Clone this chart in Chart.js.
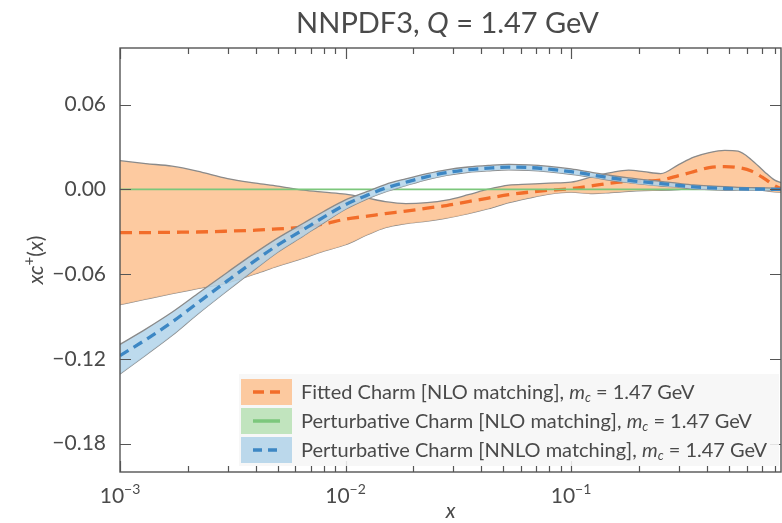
<!DOCTYPE html>
<html>
<head>
<meta charset="utf-8">
<script src="https://cdn.jsdelivr.net/npm/chart.js@4.4.1/dist/chart.umd.min.js"></script>
<style>
  html, body { margin: 0; padding: 0; background: #fff; }
  #chart { display: block; }
</style>
</head>
<body>
<canvas id="chart" width="782" height="523" style="width:782px;height:523px"></canvas>
<script>
// x grid shared by every curve
const xGrid = [0.001, 0.0013, 0.0017, 0.0022, 0.003, 0.004, 0.005, 0.0065, 0.008, 0.01,
  0.0125, 0.015, 0.0185, 0.023, 0.028, 0.035, 0.043, 0.053, 0.065, 0.08,
  0.1, 0.125, 0.15, 0.18, 0.21, 0.25, 0.3, 0.35, 0.41, 0.48,
  0.55, 0.63, 0.72, 0.8, 0.853];

// fitted charm, NLO matching: central value and 68% band
const fittedCentral = [-0.0307, -0.0306, -0.0304, -0.0302, -0.0296, -0.0289, -0.0280, -0.0268, -0.0246, -0.0211,
  -0.0190, -0.0172, -0.0154, -0.0133, -0.0115, -0.0087, -0.0062, -0.0038, -0.0020, -0.0006,
  0.0005, 0.0026, 0.0044, 0.0055, 0.0058, 0.0065, 0.0097, 0.0125, 0.0154, 0.0161,
  0.0154, 0.0129, 0.0076, 0.0026, 0.0005];
const fittedUpper = [0.0203, 0.0182, 0.0164, 0.0129, 0.0076, 0.0044, 0.0023, -0.0006, -0.0020, -0.0034,
  -0.0062, -0.0087, -0.0101, -0.0094, -0.0076, -0.0038, 0.0001, 0.0030, 0.0037, 0.0044,
  0.0051, 0.0090, 0.0118, 0.0136, 0.0125, 0.0111, 0.0175, 0.0228, 0.0260, 0.0276,
  0.0270, 0.0210, 0.0125, 0.0065, 0.0047];
const fittedLower = [-0.0816, -0.0777, -0.0738, -0.0703, -0.0661, -0.0597, -0.0544, -0.0487, -0.0438, -0.0392,
  -0.0321, -0.0271, -0.0243, -0.0225, -0.0204, -0.0172, -0.0137, -0.0094, -0.0062, -0.0034,
  -0.0020, -0.0030, -0.0023, -0.0014, -0.0009, -0.0007, -0.0002, 0.0005, 0.0005, 0.0005,
  0.0008, 0.0008, -0.0009, -0.0018, -0.0020];

// perturbative charm, NLO matching (vanishes at Q = m_c)
const nloCentral = [0, 0, 0, 0, 0, 0, 0, 0, 0, 0,
  0, 0, 0, 0, 0, 0, 0, 0, 0, 0,
  0, 0, 0, 0, 0, 0, 0, 0, 0, 0,
  0, 0, 0, 0, 0];

// perturbative charm, NNLO matching
const nnloCentral = [-0.1177, -0.1064, -0.0940, -0.0806, -0.0646, -0.0501, -0.0395, -0.0285, -0.0197, -0.0108,
  -0.0041, 0.0008, 0.0050, 0.0090, 0.0118, 0.0139, 0.0150, 0.0157, 0.0154, 0.0143,
  0.0125, 0.0101, 0.0081, 0.0064, 0.0052, 0.0040, 0.0028, 0.0017, 0.0011, 0.0006,
  0.0004, 0.0002, 0.0001, 0.0000, 0.0000];
const nnloUpper = [-0.1097, -0.0989, -0.0870, -0.0741, -0.0586, -0.0446, -0.0345, -0.0240, -0.0157, -0.0075,
  -0.0015, 0.0034, 0.0074, 0.0111, 0.0138, 0.0158, 0.0169, 0.0176, 0.0173, 0.0162,
  0.0144, 0.0118, 0.0098, 0.0081, 0.0069, 0.0057, 0.0042, 0.0031, 0.0024, 0.0019,
  0.0014, 0.0012, 0.0010, 0.0008, 0.0006];
const nnloLower = [-0.1307, -0.1174, -0.1035, -0.0886, -0.0716, -0.0561, -0.0445, -0.0330, -0.0237, -0.0141,
  -0.0067, -0.0018, 0.0026, 0.0069, 0.0098, 0.0120, 0.0131, 0.0138, 0.0135, 0.0124,
  0.0106, 0.0084, 0.0064, 0.0047, 0.0035, 0.0023, 0.0014, 0.0003, -0.0002, -0.0007,
  -0.0006, -0.0008, -0.0008, -0.0008, -0.0006];

// axis ticks
const yTickValues = [0.06, 0.00, -0.06, -0.12, -0.18];
const xMajorTicks = [0.001, 0.01, 0.1];
const xTickExponents = ['\u22123', '\u22122', '\u22121'];

const legendLabels = [
  'Fitted Charm [NLO matching], ',
  'Perturbative Charm [NLO matching], ',
  'Perturbative Charm [NNLO matching], '
];

const FONT = 'Lato, "DejaVu Sans", sans-serif';
const TEXT = '#4a4a4a';
const EDGE = '#8a8a8a';
const ORANGE = '#f26d2a';
const ORANGE_FILL = 'rgba(253,196,150,0.9)';
const GREEN = '#7cc77c';
const GREEN_FILL = 'rgba(180,224,176,0.8)';
const BLUE = '#3d87c4';
const BLUE_FILL = 'rgba(178,212,234,0.85)';

const pts = ys => xGrid.map((x, i) => ({ x: x, y: ys[i] }));

function drawRuns(ctx, runs, x, y) {
  runs.forEach(r => {
    ctx.font = r.font;
    ctx.fillText(r.text, x, y + (r.dy || 0));
    x += ctx.measureText(r.text).width;
  });
  return x;
}
function runsWidth(ctx, runs) {
  let w = 0;
  runs.forEach(r => { ctx.font = r.font; w += ctx.measureText(r.text).width; });
  return w;
}

// frame, inward ticks, titles, x labels and the legend
const decor = {
  id: 'decor',
  afterDatasetsDraw(chart) {
    const { ctx, chartArea: a, scales } = chart;
    const sx = scales.x, sy = scales.y;
    ctx.save();
    ctx.strokeStyle = '#555';
    ctx.lineWidth = 1.2;
    ctx.beginPath();
    // x ticks, bottom and top
    const decades = [0.001, 0.01, 0.1];
    decades.forEach(d => {
      for (let m = 1; m <= 9; m++) {
        const v = d * m;
        if (v > sx.max) break;
        const px = Math.round(sx.getPixelForValue(v)) + 0.5;
        const len = m === 1 ? 11 : 6;
        ctx.moveTo(px, a.bottom); ctx.lineTo(px, a.bottom - len);
        ctx.moveTo(px, a.top); ctx.lineTo(px, a.top + len);
      }
    });
    // y ticks, left and right
    yTickValues.forEach(v => {
      const py = Math.round(sy.getPixelForValue(v)) + 0.5;
      ctx.moveTo(a.left, py); ctx.lineTo(a.left + 11, py);
      ctx.moveTo(a.right, py); ctx.lineTo(a.right - 11, py);
    });
    ctx.stroke();
    ctx.lineWidth = 1.4;
    ctx.strokeRect(a.left, a.top, a.right - a.left, a.bottom - a.top);
    ctx.restore();
  },
  afterDraw(chart) {
    const { ctx, chartArea: a, scales } = chart;
    const sx = scales.x;
    ctx.save();
    ctx.fillStyle = TEXT;
    ctx.textBaseline = 'alphabetic';

    // title
    const title = [
      { text: 'NNPDF3, ', font: '29px ' + FONT },
      { text: 'Q', font: 'italic 29px ' + FONT },
      { text: ' = 1.47 GeV', font: '29px ' + FONT }
    ];
    drawRuns(ctx, title, (a.left + a.right) / 2 - 3 - runsWidth(ctx, title) / 2, 33);

    // x tick labels 10^n
    xMajorTicks.forEach((v, i) => {
      const runs = [
        { text: '10', font: '21px ' + FONT },
        { text: xTickExponents[i], font: '14px ' + FONT, dy: -9 }
      ];
      const px = sx.getPixelForValue(v);
      drawRuns(ctx, runs, px - runsWidth(ctx, runs) / 2, 503);
    });

    // x axis title
    ctx.font = 'italic 21px ' + FONT;
    ctx.textAlign = 'center';
    ctx.fillText('x', (a.left + a.right) / 2, 518);
    ctx.textAlign = 'left';

    // y axis title
    ctx.save();
    ctx.translate(43, (a.top + a.bottom) / 2);
    ctx.rotate(-Math.PI / 2);
    const ytitle = [
      { text: 'xc', font: 'italic 21px ' + FONT },
      { text: '+', font: '15px ' + FONT, dy: -9 },
      { text: '(', font: '21px ' + FONT },
      { text: 'x', font: 'italic 21px ' + FONT },
      { text: ')', font: '21px ' + FONT }
    ];
    drawRuns(ctx, ytitle, -runsWidth(ctx, ytitle) / 2, 0);
    ctx.restore();

    // legend
    const boxL = 239, boxR = a.right - 2, boxT = 374, boxB = a.bottom - 6;
    ctx.fillStyle = 'rgba(246,246,246,0.88)';
    ctx.fillRect(boxL, boxT, boxR - boxL, boxB - boxT);
    const fills = [ORANGE_FILL, GREEN_FILL, BLUE_FILL];
    const lines = [ORANGE, GREEN, BLUE];
    const dashes = [[11, 6], [], [9, 6]];
    legendLabels.forEach((label, i) => {
      const top = boxT + 5 + i * 29;
      const cy = top + 13;
      ctx.fillStyle = fills[i];
      ctx.fillRect(boxL + 2, top, 51, 26);
      ctx.strokeStyle = lines[i];
      ctx.lineWidth = 3.5;
      ctx.setLineDash(dashes[i]);
      ctx.beginPath();
      ctx.moveTo(boxL + 14, cy); ctx.lineTo(boxL + 41, cy);
      ctx.stroke();
      ctx.setLineDash([]);
      ctx.fillStyle = TEXT;
      drawRuns(ctx, [
        { text: label, font: '20px ' + FONT },
        { text: 'm', font: 'italic 20px ' + FONT },
        { text: 'c', font: 'italic 13px ' + FONT, dy: 3 },
        { text: ' = 1.47 GeV', font: '20px ' + FONT }
      ], boxL + 62, cy + 7);
    });
    ctx.restore();
  }
};

const bandLine = { pointRadius: 0, borderColor: EDGE, borderWidth: 1.3, cubicInterpolationMode: 'monotone' };

new Chart(document.getElementById('chart'), {
  type: 'line',
  data: {
    datasets: [
      Object.assign({ label: 'fitted upper', data: pts(fittedUpper), fill: '+1', backgroundColor: ORANGE_FILL, order: 10 }, bandLine),
      Object.assign({ label: 'fitted lower', data: pts(fittedLower), fill: false, order: 10 }, bandLine),
      { label: 'Fitted Charm [NLO matching]', data: pts(fittedCentral), borderColor: ORANGE, borderWidth: 3.3,
        borderDash: [12, 7], pointRadius: 0, fill: false, cubicInterpolationMode: 'monotone', order: 6 },
      { label: 'Perturbative Charm [NLO matching]', data: pts(nloCentral), borderColor: GREEN, borderWidth: 1.8,
        pointRadius: 0, fill: false, order: 5 },
      Object.assign({ label: 'nnlo upper', data: pts(nnloUpper), fill: '+1', backgroundColor: BLUE_FILL, order: 4 }, bandLine),
      Object.assign({ label: 'nnlo lower', data: pts(nnloLower), fill: false, order: 4 }, bandLine),
      { label: 'Perturbative Charm [NNLO matching]', data: pts(nnloCentral), borderColor: BLUE, borderWidth: 3.3,
        borderDash: [10, 6], pointRadius: 0, fill: false, cubicInterpolationMode: 'monotone', order: 1 }
    ]
  },
  options: {
    responsive: false,
    devicePixelRatio: 1,
    animation: false,
    events: [],
    layout: { padding: { top: 48, right: 1, left: 0, bottom: 0 } },
    plugins: { legend: { display: false }, tooltip: { enabled: false }, title: { display: false } },
    scales: {
      x: {
        type: 'logarithmic',
        min: 0.001,
        max: 0.853,
        grid: { display: false, drawTicks: false },
        border: { display: false },
        ticks: { display: false },
        afterFit: s => { s.height = 51; }
      },
      y: {
        type: 'linear',
        min: -0.2,
        max: 0.1,
        grid: { display: false, drawTicks: false },
        border: { display: false },
        afterBuildTicks: s => { s.ticks = yTickValues.map(v => ({ value: v })); },
        ticks: {
          padding: 14,
          color: TEXT,
          font: { family: FONT, size: 21 },
          callback: v => (v < 0 ? '\u2212' : '') + Math.abs(v).toFixed(2)
        },
        afterFit: s => { s.width = 120; }
      }
    }
  },
  plugins: [decor]
});
</script>
</body>
</html>
